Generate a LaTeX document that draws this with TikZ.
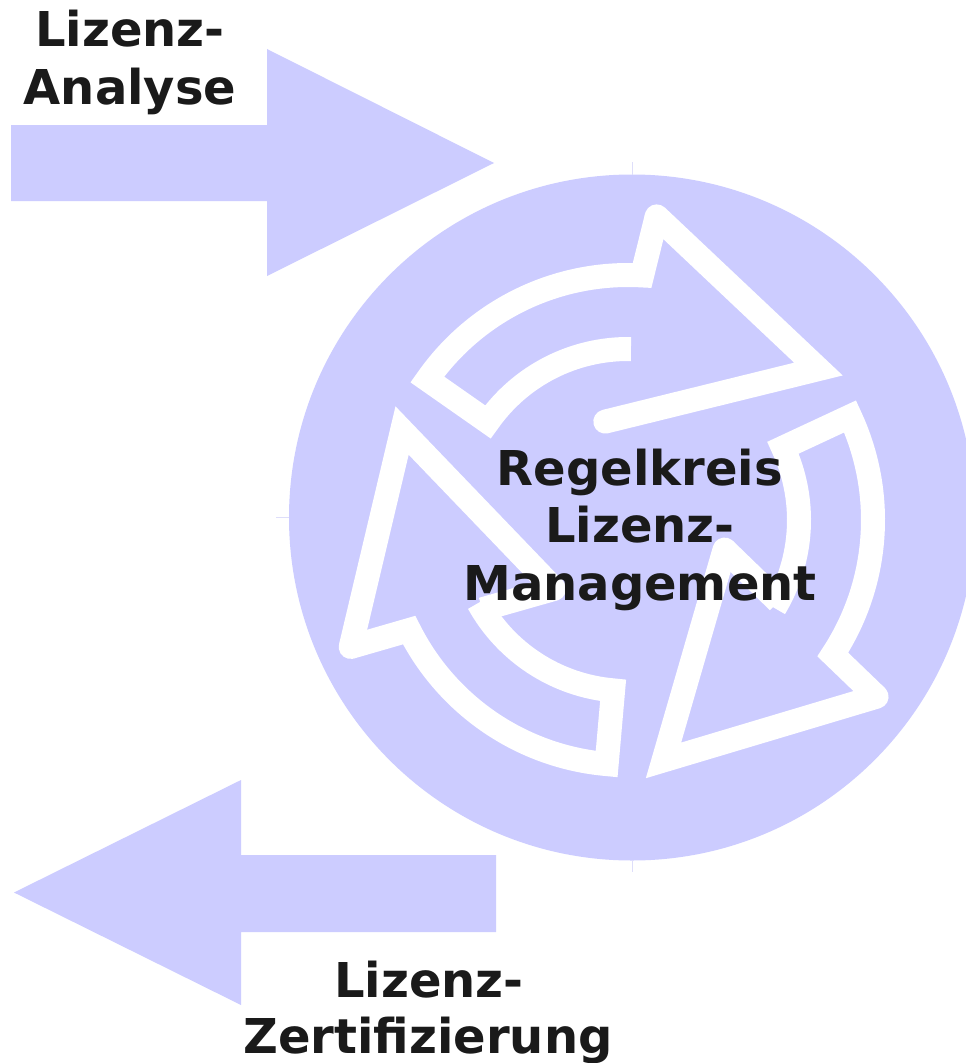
\documentclass[tikz,border=0pt]{standalone}
\usepackage{fontspec}
\setmainfont{DejaVu Sans}
\definecolor{lav}{RGB}{204,204,255}
\definecolor{ink}{RGB}{26,26,26}
\definecolor{tickc}{RGB}{222,222,250}
\begin{document}
\begin{tikzpicture}[x=0.75pt,y=-0.75pt,
  ring/.style={draw=white, line width=18pt},
  lbl/.style={anchor=base, inner sep=0pt, text=ink, font=\fontsize{36}{43}\selectfont\bfseries},
  tickline/.style={draw=tickc, line width=0.6pt}]
\useasboundingbox (0,0) rectangle (966,1063);
\clip (0,0) rectangle (966,1063);
\fill[white] (0,0) rectangle (966,1063);
% block arrows
\fill[lav] (11,125) -- (267,125) -- (267,49) -- (494,163) -- (267,276) -- (267,201) -- (11,201) -- cycle;
\fill[lav] (496,855) -- (241,855) -- (241,780) -- (14,892.5) -- (241,1005) -- (241,932) -- (496,932) -- cycle;
% disc
\coordinate (c) at (632,517.5);
\fill[lav] (c) circle[radius=343];
\draw[tickline] (632,162) -- (632,175);
\draw[tickline] (632,860) -- (632,872);
\draw[tickline] (276,517.5) -- (289,517.5);
% cycle arrows (angles measured counter-clockwise, y up)
\begin{scope}[shift={(628,520)}, yscale=-1]
\foreach \a/\back in {0/0, 120/1, -120/1} {
  \draw[ring, line cap=round, line join=miter] ({103+\a}:101) -- ({38.4+\a}:243) -- ({84.6+\a}:305);
  \draw[ring, line join=miter] ({84.6+\a}:305) -- ({86.7+\a}:245) arc[start angle=86.7+\a, end angle=145+\a, radius=245] -- ({145+\a}:171) arc[start angle=145+\a, end angle=89+\a, radius=171];
  \ifnum\back=1 \draw[ring] ({91.5+\a}:171) -- ({103+\a}:101); \fi
}
\end{scope}
% labels
\node[lbl] (ta1) at (130,47) {Lizenz-};
\node[lbl] (ta2) at (130,104) {Analyse};
\node[lbl] (tm1) at (640,485) {Regelkreis};
\node[lbl] (tm2) at (640,542) {Lizenz-};
\node[lbl] (tm3) at (640,600) {Management};
\node[lbl] (tz1) at (429,997) {Lizenz-};
\node[lbl] (tz2) at (428,1053) {Zertifizierung};
\end{tikzpicture}
\end{document}
